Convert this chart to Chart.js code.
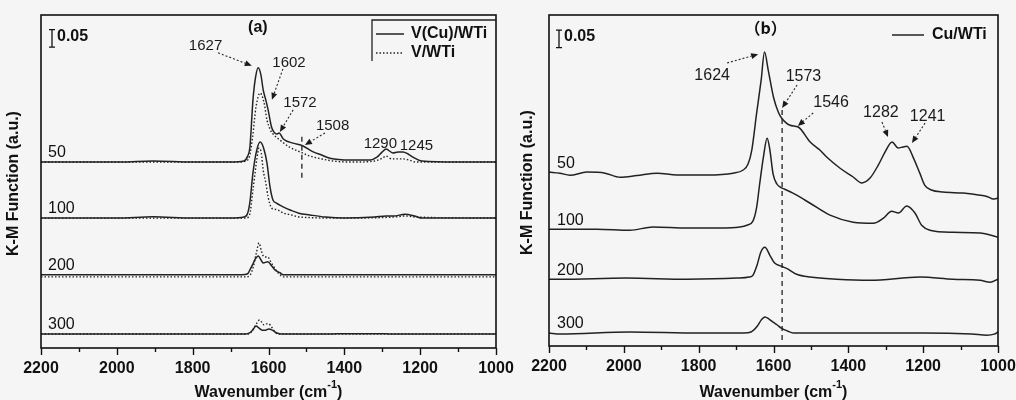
<!DOCTYPE html>
<html>
<head>
<meta charset="utf-8">
<script src="https://cdn.jsdelivr.net/npm/chart.js@4.4.1/dist/chart.umd.min.js"></script>
<style>
  html, body { margin: 0; padding: 0; background: #f5f5f5; }
  #wrap { position: relative; width: 1016px; height: 400px; overflow: hidden; }
  .panel { position: absolute; top: 0; height: 400px; }
</style>
</head>
<body>
<div id="wrap">
  <div class="panel" style="left:0;width:540px"><canvas id="chartA" width="540" height="400"></canvas></div>
  <div class="panel" style="left:508px;width:508px"><canvas id="chartB" width="508" height="400"></canvas></div>
</div>
<script>
// ---------- data: K-M spectra (signal above each trace's baseline) ----------
const xTicks = [2200, 2000, 1800, 1600, 1400, 1200, 1000];
const samples = ['50', '100', '200', '300'];
const stackA = [0.531, 0.371, 0.209, 0.040];
const stackB = [0.497, 0.334, 0.191, 0.037];

// (a) V(Cu)/WTi, solid
const wnA50Cu = [2200, 2100, 1990, 1905, 1800, 1700, 1665, 1655, 1649, 1641, 1634, 1627, 1620, 1614, 1607, 1601, 1592, 1586, 1579, 1572, 1561, 1535, 1509, 1482, 1460, 1438, 1385, 1332, 1314, 1300, 1290, 1272, 1258, 1245, 1232, 1219, 1196, 1100, 1000];
const kmA50Cu = [0, 0, 0, 0.003, 0, 0, 0.003, 0.017, 0.043, 0.177, 0.243, 0.269, 0.249, 0.206, 0.177, 0.149, 0.100, 0.086, 0.080, 0.083, 0.066, 0.054, 0.046, 0.029, 0.020, 0.011, 0.006, 0.006, 0.014, 0.029, 0.037, 0.026, 0.029, 0.029, 0.023, 0.014, 0.003, 0, 0];
const wnA100Cu = [2200, 2000, 1905, 1800, 1700, 1665, 1655, 1649, 1641, 1631, 1622, 1613, 1604, 1596, 1588, 1579, 1570, 1556, 1543, 1520, 1491, 1450, 1400, 1320, 1290, 1270, 1240, 1215, 1195, 1100, 1000];
const kmA100Cu = [0, 0, 0.004, 0, 0, 0.003, 0.014, 0.046, 0.129, 0.194, 0.217, 0.200, 0.157, 0.089, 0.051, 0.043, 0.037, 0.029, 0.023, 0.014, 0.009, 0.003, 0, 0.003, 0.006, 0.006, 0.011, 0.006, 0, 0, 0];
const wnA200Cu = [2200, 1800, 1670, 1655, 1649, 1642, 1636, 1627, 1620, 1614, 1602, 1592, 1583, 1570, 1561, 1400, 1000];
const kmA200Cu = [0, 0, 0, 0.003, 0.014, 0.029, 0.043, 0.054, 0.043, 0.034, 0.037, 0.026, 0.014, 0.006, 0, 0, 0];
const wnA300Cu = [2200, 1800, 1660, 1650, 1642, 1633, 1625, 1617, 1608, 1600, 1590, 1578, 1565, 1440, 1400, 1300, 1280, 1000];
const kmA300Cu = [0, 0, 0, 0.003, 0.011, 0.023, 0.017, 0.011, 0.011, 0.014, 0.011, 0.003, 0, 0, 0.001, 0.001, 0, 0];

// (a) V/WTi, dotted
const wnA50V = [2200, 2000, 1800, 1680, 1660, 1650, 1642, 1633, 1622, 1612, 1604, 1596, 1588, 1570, 1545, 1517, 1490, 1460, 1430, 1380, 1320, 1300, 1290, 1275, 1258, 1245, 1230, 1210, 1100, 1000];
const kmA50V = [0, 0, 0, 0, 0.003, 0.017, 0.071, 0.157, 0.197, 0.171, 0.120, 0.094, 0.080, 0.063, 0.043, 0.029, 0.017, 0.009, 0.003, 0, 0.003, 0.011, 0.017, 0.009, 0.009, 0.009, 0.006, 0, 0, 0];
const wnA100V = [2200, 2000, 1800, 1700, 1660, 1650, 1641, 1631, 1625, 1619, 1614, 1607, 1601, 1592, 1586, 1575, 1560, 1540, 1517, 1400, 1270, 1240, 1210, 1000];
const kmA100V = [0, 0, 0, 0, 0, 0.009, 0.080, 0.166, 0.200, 0.186, 0.137, 0.100, 0.060, 0.029, 0.026, 0.023, 0.014, 0.009, 0.003, 0, 0.003, 0.006, 0.003, 0];
const wnA200V = [2200, 1800, 1660, 1648, 1640, 1632, 1625, 1619, 1614, 1608, 1602, 1594, 1586, 1575, 1560, 1400, 1000];
const kmA200V = [-0.006, -0.006, -0.006, 0, 0.023, 0.063, 0.091, 0.069, 0.054, 0.051, 0.051, 0.037, 0.023, 0.006, -0.006, -0.006, -0.006];
const wnA300V = [2200, 1800, 1655, 1645, 1637, 1629, 1624, 1618, 1612, 1605, 1599, 1592, 1585, 1575, 1400, 1000];
const kmA300V = [0, 0, 0, 0.006, 0.020, 0.034, 0.040, 0.034, 0.026, 0.029, 0.029, 0.020, 0.009, 0, 0, 0];

// (b) Cu/WTi
const wnB50 = [2200, 2171, 2144, 2099, 2050, 2010, 1965, 1911, 1858, 1778, 1708, 1681, 1668, 1658, 1645, 1633, 1624, 1614, 1600, 1587, 1578, 1556, 1534, 1502, 1476, 1458, 1422, 1387, 1364, 1342, 1320, 1302, 1283, 1267, 1254, 1243, 1227, 1209, 1196, 1178, 1147, 1093, 1048, 1026, 1013, 1000];
const kmB50 = [0, -0.003, -0.009, 0, -0.003, -0.015, -0.010, -0.003, -0.008, -0.008, -0.003, 0.006, 0.023, 0.063, 0.169, 0.263, 0.343, 0.291, 0.214, 0.171, 0.154, 0.134, 0.129, 0.086, 0.063, 0.043, 0.011, -0.014, -0.031, -0.017, 0.020, 0.057, 0.086, 0.069, 0.072, 0.074, 0.043, -0.003, -0.037, -0.051, -0.057, -0.060, -0.066, -0.071, -0.077, -0.074];
const wnB100 = [2200, 2150, 2072, 1984, 1922, 1831, 1743, 1690, 1671, 1655, 1645, 1637, 1627, 1617, 1610, 1601, 1591, 1582, 1570, 1548, 1538, 1502, 1449, 1387, 1333, 1307, 1284, 1266, 1244, 1222, 1204, 1182, 1120, 1048, 1000];
const kmB100 = [0, 0, 0, -0.003, 0.006, 0.003, 0.003, 0.006, 0.011, 0.023, 0.063, 0.129, 0.206, 0.260, 0.229, 0.157, 0.129, 0.120, 0.114, 0.103, 0.097, 0.074, 0.040, 0.020, 0.017, 0.031, 0.051, 0.046, 0.066, 0.046, 0.011, -0.003, -0.009, -0.011, -0.023];
const wnB200 = [2200, 2170, 1993, 1831, 1698, 1665, 1655, 1644, 1634, 1623, 1610, 1597, 1579, 1565, 1538, 1502, 1431, 1342, 1208, 1120, 1048, 1021, 1000];
const kmB200 = [0, 0, 0.003, 0, 0.003, 0.006, 0.011, 0.040, 0.077, 0.091, 0.069, 0.046, 0.037, 0.031, 0.014, 0.006, 0, -0.003, 0.006, 0, -0.003, -0.009, 0];
const wnB300 = [2200, 2170, 1984, 1800, 1680, 1660, 1643, 1633, 1623, 1612, 1601, 1590, 1579, 1563, 1547, 1400, 1200, 1070, 1030, 1010, 1000];
const kmB300 = [0, -0.003, 0.003, 0, 0, 0.003, 0.020, 0.037, 0.046, 0.040, 0.031, 0.023, 0.014, 0.006, 0, 0, 0, -0.003, -0.006, -0.003, 0.003];

// vertical guide lines
const guideAwn = [1512, 1512];
const guideAkm = [0.486, 0.614];
const guideBwn = [1577, 1577];
const guideBkm = [0.017, 0.683];

// ---------- look ----------
const FONT = '"Liberation Sans", Arial, Helvetica, sans-serif';
const INK = '#111';
const LINE = '#222';
const DOTS = [1.5, 2];

function trace(wn, km, base, dotted) {
  return {
    data: wn.map((w, i) => ({ x: w, y: base + km[i] })),
    borderColor: LINE,
    borderWidth: dotted ? 1.4 : 1.5,
    borderDash: dotted ? DOTS : [],
    pointRadius: 0,
    cubicInterpolationMode: 'monotone',
    fill: false
  };
}
function guide(wn, km) {
  return {
    data: wn.map((w, i) => ({ x: w, y: km[i] })),
    borderColor: LINE, borderWidth: 1.3, borderDash: [5, 4],
    pointRadius: 0, tension: 0, fill: false
  };
}

function drawArrow(ctx, x1, y1, x2, y2) {
  const ang = Math.atan2(y2 - y1, x2 - x1);
  const head = 7, half = 3;
  const bx = x2 - head * Math.cos(ang), by = y2 - head * Math.sin(ang);
  ctx.setLineDash([2, 2]);
  ctx.beginPath(); ctx.moveTo(x1, y1); ctx.lineTo(bx, by); ctx.stroke();
  ctx.setLineDash([]);
  ctx.beginPath();
  ctx.moveTo(x2, y2);
  ctx.lineTo(bx + half * Math.sin(ang), by - half * Math.cos(ang));
  ctx.lineTo(bx - half * Math.sin(ang), by + half * Math.cos(ang));
  ctx.closePath(); ctx.fill();
}

// frame, ticks, titles, labels, scale bar, notes and legend
function decor(opt) {
  return {
    id: 'decor',
    afterDraw(chart) {
      const { ctx, chartArea: a, scales: { x, y } } = chart;
      const X = v => x.getPixelForValue(v);
      const Y = v => y.getPixelForValue(v);
      ctx.save();
      ctx.strokeStyle = '#111';
      ctx.fillStyle = INK;

      // frame
      ctx.lineWidth = 1.6;
      ctx.strokeRect(a.left, a.top, a.right - a.left, a.bottom - a.top);

      // tick marks: long at labelled values, short in between
      ctx.lineWidth = 1.4;
      for (let w = 1000; w <= 2200; w += 100) {
        const px = Math.round(X(w)) + 0.5;
        const len = xTicks.includes(w) ? 7 : 4;
        ctx.beginPath(); ctx.moveTo(px, a.bottom); ctx.lineTo(px, a.bottom + len); ctx.stroke();
      }

      // x title with superscript
      const cx = (a.left + a.right) / 2;
      ctx.font = `bold 16px ${FONT}`;
      const t1 = 'Wavenumber (cm', t2 = ')';
      const w1 = ctx.measureText(t1).width, w2 = ctx.measureText(t2).width;
      ctx.font = `bold 11px ${FONT}`;
      const ws = ctx.measureText('-1').width;
      let sx = cx - (w1 + ws + w2) / 2;
      ctx.textBaseline = 'alphabetic'; ctx.textAlign = 'left';
      ctx.font = `bold 16px ${FONT}`;
      ctx.fillText(t1, sx, 397); sx += w1;
      ctx.font = `bold 11px ${FONT}`;
      ctx.fillText('-1', sx, 387.5); sx += ws;
      ctx.font = `bold 16px ${FONT}`;
      ctx.fillText(t2, sx, 397);

      // y title
      ctx.save();
      ctx.translate(opt.yTitleX, (a.top + a.bottom) / 2 + 2);
      ctx.rotate(-Math.PI / 2);
      ctx.textAlign = 'center'; ctx.textBaseline = 'middle';
      ctx.fillText('K-M Function (a.u.)', 0, 0);
      ctx.restore();

      // sample labels above each baseline
      ctx.font = `16px ${FONT}`;
      ctx.textAlign = 'left'; ctx.textBaseline = 'middle';
      opt.stack.forEach((b, i) => ctx.fillText(samples[i], a.left + opt.labelDx, Y(b) - 9));

      // scale bar: 0.05 a.u.
      const bx = a.left + opt.barDx;
      const by1 = Y(opt.barTop), by2 = Y(opt.barTop - 0.05);
      ctx.lineWidth = 1.3;
      ctx.beginPath();
      ctx.moveTo(bx, by1); ctx.lineTo(bx, by2);
      ctx.moveTo(bx - 3, by1); ctx.lineTo(bx + 3, by1);
      ctx.moveTo(bx - 3, by2); ctx.lineTo(bx + 3, by2);
      ctx.stroke();
      ctx.font = `bold 16px ${FONT}`;
      ctx.fillText('0.05', bx + 5, (by1 + by2) / 2 - 2);

      // panel letter
      ctx.textAlign = 'center';
      ctx.font = opt.letterFont;
      ctx.fillText(opt.letter[0], X(opt.letter[1]), Y(opt.letter[2]));

      // peak notes with dotted arrows
      ctx.font = `${opt.noteSize}px ${FONT}`;
      ctx.strokeStyle = '#2a2a2a'; ctx.fillStyle = '#1a1a1a'; ctx.lineWidth = 1.1;
      opt.notes.forEach(n => {
        ctx.fillText(n.t, X(n.at[0]), Y(n.at[1]));
        if (n.from) drawArrow(ctx, X(n.from[0]), Y(n.from[1]), X(n.to[0]), Y(n.to[1]));
      });

      // legend
      const L = opt.legend;
      ctx.strokeStyle = '#222'; ctx.fillStyle = INK;
      if (L.box) {
        ctx.lineWidth = 1.3;
        ctx.beginPath();
        ctx.moveTo(a.right, a.top + L.box[0]);
        ctx.lineTo(a.right - L.box[1], a.top + L.box[0]);
        ctx.lineTo(a.right - L.box[1], a.top + L.box[2]);
        ctx.stroke();
      }
      ctx.font = `bold 16px ${FONT}`;
      ctx.textAlign = 'left'; ctx.textBaseline = 'middle';
      L.items.forEach(it => {
        const ly = a.top + it.dy;
        ctx.lineWidth = it.dotted ? 1.4 : 1.5;
        ctx.setLineDash(it.dotted ? DOTS : []);
        ctx.beginPath(); ctx.moveTo(a.right - L.line[0], ly); ctx.lineTo(a.right - L.line[1], ly); ctx.stroke();
        ctx.setLineDash([]);
        ctx.fillText(it.label, a.right - L.text, ly);
      });
      ctx.restore();
    }
  };
}

function build(id, datasets, opt) {
  return new Chart(document.getElementById(id), {
    type: 'line',
    data: { datasets },
    options: {
      responsive: false, animation: false, devicePixelRatio: 1,
      layout: { padding: { top: 15, right: opt.padRight, left: 0, bottom: 0 } },
      plugins: { legend: { display: false }, tooltip: { enabled: false } },
      scales: {
        x: {
          type: 'linear', reverse: true, min: 1000, max: 2200,
          afterBuildTicks: s => { s.ticks = xTicks.map(v => ({ value: v })); },
          // fixed axis band; end labels may overhang the plot edges
          afterFit: s => { s.height = opt.xAxisHeight; s.paddingLeft = 0; s.paddingRight = 0; },
          grid: { display: false, drawTicks: false }, border: { display: false },
          ticks: {
            font: { family: FONT, size: 16, weight: 'bold' }, color: INK, padding: 11,
            maxRotation: 0, autoSkip: false, callback: v => String(v)
          }
        },
        y: {
          type: 'linear', min: 0, max: opt.yMax,
          afterFit: s => { s.width = 41; },
          grid: { display: false, drawTicks: false }, border: { display: false },
          ticks: { display: false }
        }
      }
    },
    plugins: [decor(opt)]
  });
}

// ---------- panel (a) ----------
build('chartA', [
  trace(wnA50Cu, kmA50Cu, stackA[0], false),
  trace(wnA100Cu, kmA100Cu, stackA[1], false),
  trace(wnA200Cu, kmA200Cu, stackA[2], false),
  trace(wnA300Cu, kmA300Cu, stackA[3], false),
  trace(wnA50V, kmA50V, stackA[0], true),
  trace(wnA100V, kmA100V, stackA[1], true),
  trace(wnA200V, kmA200V, stackA[2], true),
  trace(wnA300V, kmA300V, stackA[3], true),
  guide(guideAwn, guideAkm)
], {
  padRight: 44, xAxisHeight: 52, yMax: 0.951, yTitleX: 14,
  stack: stackA, labelDx: 7, barDx: 11, barTop: 0.909,
  letter: ['(a)', 1628, 0.914], letterFont: `bold 16px ${FONT}`,
  noteSize: 15,
  notes: [
    { t: '1627', at: [1766, 0.863], from: [1733, 0.843], to: [1644, 0.806] },
    { t: '1602', at: [1546, 0.814], from: [1562, 0.797], to: [1591, 0.709] },
    { t: '1572', at: [1517, 0.701], from: [1535, 0.680], to: [1570, 0.617] },
    { t: '1508', at: [1431, 0.634], from: [1451, 0.614], to: [1504, 0.580] },
    { t: '1290', at: [1305, 0.583] },
    { t: '1245', at: [1210, 0.577] }
  ],
  legend: {
    box: [5, 124, 46], line: [120, 92], text: 85,
    items: [{ label: 'V(Cu)/WTi', dy: 19, dotted: false }, { label: 'V/WTi', dy: 38, dotted: true }]
  }
});

// ---------- panel (b) ----------
build('chartB', [
  trace(wnB50, kmB50, stackB[0], false),
  trace(wnB100, kmB100, stackB[1], false),
  trace(wnB200, kmB200, stackB[2], false),
  trace(wnB300, kmB300, stackB[3], false),
  guide(guideBwn, guideBkm)
], {
  padRight: 18, xAxisHeight: 54, yMax: 0.946, yTitleX: 20,
  stack: stackB, labelDx: 8, barDx: 10, barTop: 0.903,
  letter: ['（b）', 1621, 0.91], letterFont: `bold 16px "Noto Sans CJK SC", ${FONT}`,
  noteSize: 16,
  notes: [
    { t: '1624', at: [1764, 0.774], from: [1724, 0.809], to: [1641, 0.834] },
    { t: '1573', at: [1520, 0.769], from: [1537, 0.746], to: [1577, 0.680] },
    { t: '1546', at: [1446, 0.696], from: [1494, 0.666], to: [1535, 0.629] },
    { t: '1282', at: [1313, 0.666], from: [1310, 0.640], to: [1294, 0.597] },
    { t: '1241', at: [1188, 0.657], from: [1195, 0.637], to: [1230, 0.580] }
  ],
  legend: {
    box: null, line: [106, 74], text: 66,
    items: [{ label: 'Cu/WTi', dy: 20, dotted: false }]
  }
});
</script>
</body>
</html>
